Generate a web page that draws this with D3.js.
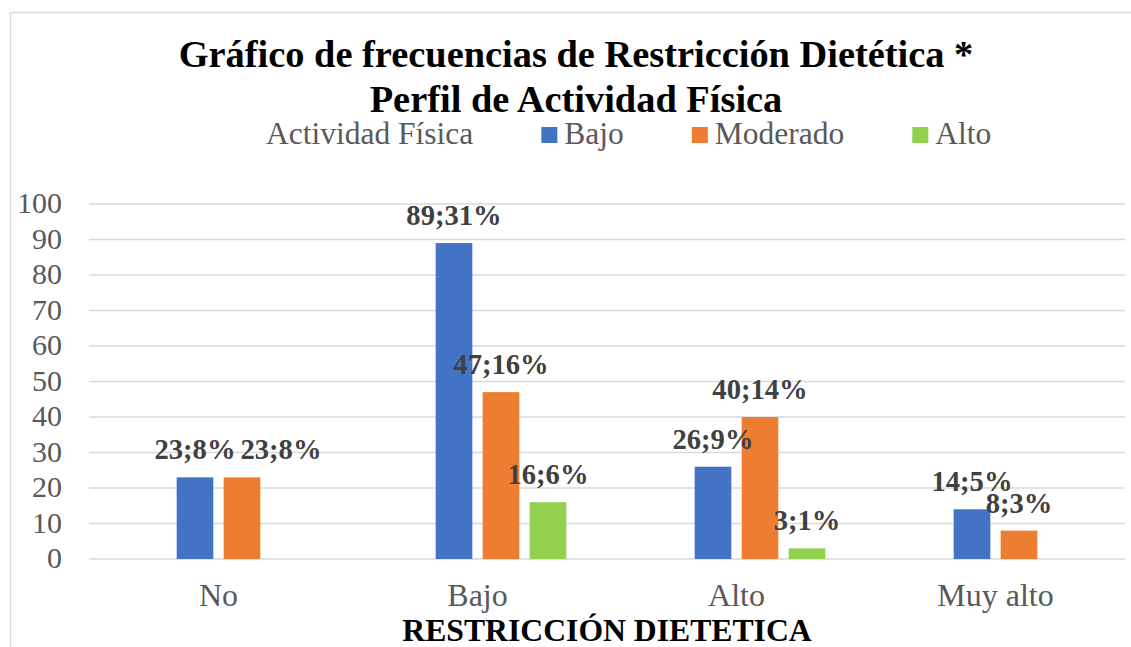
<!DOCTYPE html>
<html>
<head>
<meta charset="utf-8">
<script src="https://cdn.jsdelivr.net/npm/d3@7"></script>
<style>
  html, body { margin: 0; padding: 0; background: #fff; }
  svg { display: block; }
  text { font-family: "Liberation Serif", "Times New Roman", serif; }
</style>
</head>
<body>
<svg id="chart"></svg>
<script>
// data
var categories = ["No", "Bajo", "Alto", "Muy alto"];
var seriesNames = ["Actividad Física", "Bajo", "Moderado", "Alto"];
var bajoValues = [23, 89, 26, 14];
var moderadoValues = [23, 47, 40, 8];
var altoValues = [null, 16, 3, null];
var bajoPct = [8, 31, 9, 5];
var moderadoPct = [8, 16, 14, 3];
var altoPct = [null, 6, 1, null];
var yTicks = [0, 10, 20, 30, 40, 50, 60, 70, 80, 90, 100];
var colors = ["none", "#4472C4", "#ED7D31", "#92D050"];

var W = 1131, H = 647;
var svg = d3.select('#chart').attr('width', W).attr('height', H);

// chart frame (only the left and top edges are inside the picture)
svg.append('rect')
    .attr('x', 10.5).attr('y', 12.5)
    .attr('width', 1140).attr('height', 700)
    .attr('fill', 'none')
    .attr('stroke', '#d9d9d9')
    .attr('stroke-width', 1.5);

var plot = { left: 89, right: 1125, top: 204, bottom: 559 };

var x0 = d3.scaleBand().domain(categories).range([plot.left, plot.right]).padding(0);
var step = 47;
var x1 = d3.scaleBand().domain(seriesNames)
    .range([x0.bandwidth() / 2 - 2 * step, x0.bandwidth() / 2 + 2 * step])
    .paddingInner(0.22).paddingOuter(0.11);
var y = d3.scaleLinear().domain([0, 100]).range([plot.bottom, plot.top]);

// gridlines
svg.append('g').selectAll('line')
    .data(yTicks)
    .enter().append('line')
    .attr('x1', plot.left).attr('x2', plot.right)
    .attr('y1', d => y(d)).attr('y2', d => y(d))
    .attr('stroke', '#d9d9d9')
    .attr('stroke-width', 1.6);

// y tick labels
svg.append('g').selectAll('text')
    .data(yTicks)
    .enter().append('text')
    .attr('x', 62)
    .attr('y', d => y(d))
    .attr('dy', '0.3em')
    .attr('text-anchor', 'end')
    .attr('font-size', 30)
    .attr('fill', '#595959')
    .text(d => d);

// build rows
var rows = [];
categories.forEach(function(c, i) {
    rows.push({ cat: c, s: "Bajo", v: bajoValues[i], p: bajoPct[i] });
    rows.push({ cat: c, s: "Moderado", v: moderadoValues[i], p: moderadoPct[i] });
    rows.push({ cat: c, s: "Alto", v: altoValues[i], p: altoPct[i] });
});
rows = rows.filter(d => d.v != null);

var colorOf = d3.scaleOrdinal().domain(seriesNames).range(colors);

svg.append('g').selectAll('rect')
    .data(rows)
    .enter().append('rect')
    .attr('x', d => x0(d.cat) + x1(d.s))
    .attr('y', d => y(d.v))
    .attr('width', x1.bandwidth())
    .attr('height', d => y(0) - y(d.v))
    .attr('fill', d => colorOf(d.s));

// data labels; the No/Moderado label was moved right in the original
function nudge(d) { return (d.cat === "No" && d.s === "Moderado") ? 39 : 0; }

svg.append('g').selectAll('text')
    .data(rows)
    .enter().append('text')
    .attr('x', d => x0(d.cat) + x1(d.s) + x1.bandwidth() / 2 + nudge(d))
    .attr('y', d => y(d.v) - 18)
    .attr('text-anchor', 'middle')
    .attr('font-size', 28.6)
    .attr('font-weight', 'bold')
    .attr('fill', '#404040')
    .text(d => d.v + ';' + d.p + '%');

// category labels
svg.append('g').selectAll('text')
    .data(categories)
    .enter().append('text')
    .attr('x', d => x0(d) + x0.bandwidth() / 2)
    .attr('y', 606)
    .attr('text-anchor', 'middle')
    .attr('font-size', 32)
    .attr('fill', '#595959')
    .text(d => d);

// axis title
svg.append('text')
    .attr('x', (plot.left + plot.right) / 2)
    .attr('y', 641)
    .attr('text-anchor', 'middle')
    .attr('font-size', 31.7)
    .attr('font-weight', 'bold')
    .attr('fill', '#000')
    .text('RESTRICCIÓN DIETETICA');

// title
var titleLines = ["Gráfico de frecuencias de Restricción Dietética *", "Perfil de Actividad Física"];
svg.append('g').selectAll('text')
    .data(titleLines)
    .enter().append('text')
    .attr('x', 576)
    .attr('y', (d, i) => 67 + i * 44.5)
    .attr('text-anchor', 'middle')
    .attr('font-size', 38.4)
    .attr('font-weight', 'bold')
    .attr('fill', '#000')
    .text(d => d);

// legend
var legend = svg.append('g');
var lx = 243;
seriesNames.forEach(function(name, i) {
    if (colors[i] !== "none") {
        legend.append('rect')
            .attr('x', lx).attr('y', 127)
            .attr('width', 16).attr('height', 16)
            .attr('fill', colors[i]);
    }
    var t = legend.append('text')
        .attr('x', lx + 23)
        .attr('y', 144)
        .attr('font-size', 31.5)
        .attr('fill', '#595959')
        .text(name);
    lx += 23 + t.node().getComputedTextLength() + 68;
});
</script>
</body>
</html>
